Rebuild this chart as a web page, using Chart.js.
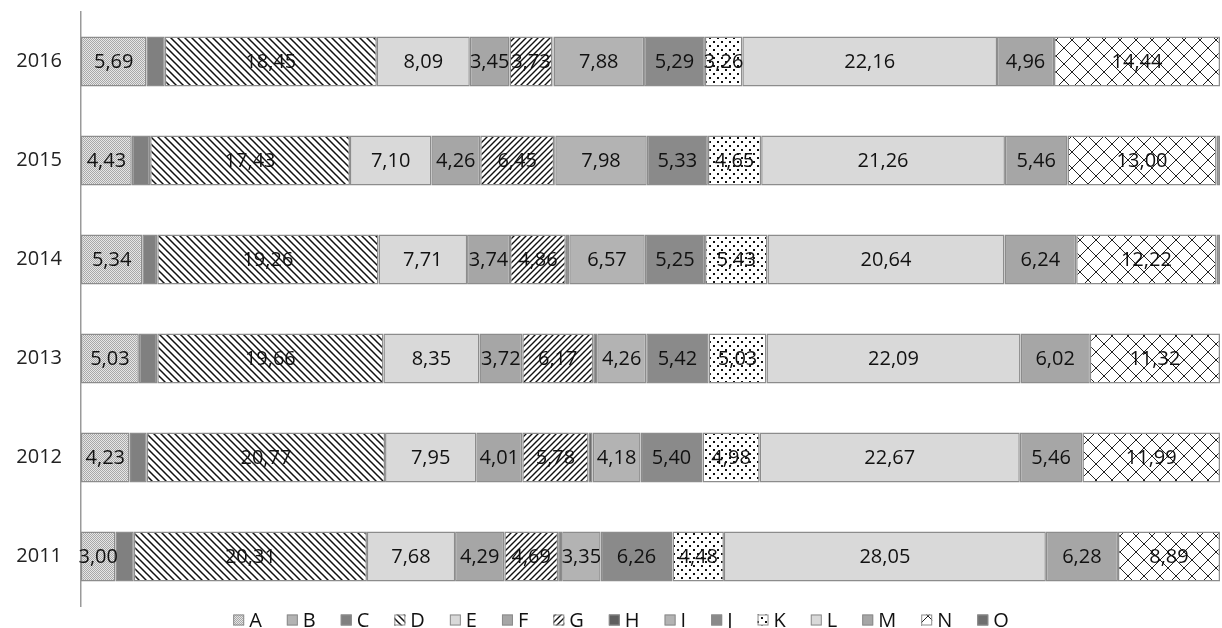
<!DOCTYPE html>
<html>
<head>
<meta charset="utf-8">
<script src="https://cdn.jsdelivr.net/npm/chart.js@4/dist/chart.umd.min.js"></script>
<style>
  html, body { margin: 0; padding: 0; background: #fff; }
  #wrap { width: 1222px; height: 628px; }
</style>
</head>
<body>
<div id="wrap"><canvas id="chart-canvas" width="1222" height="628"></canvas></div>
<script>
// years top to bottom
const years = ['2016', '2015', '2014', '2013', '2012', '2011'];
const seriesNames = ['A','B','C','D','E','F','G','H','I','J','K','L','M','N','O'];

const A = [5.69, 4.43, 5.34, 5.03, 4.23, 3.00];
const B = [0, 0, 0, 0, 0, 0];
const C = [1.6, 1.6, 1.3, 1.6, 1.5, 1.6];
const D = [18.45, 17.43, 19.26, 19.66, 20.77, 20.31];
const E = [8.09, 7.10, 7.71, 8.35, 7.95, 7.68];
const F = [3.45, 4.26, 3.74, 3.72, 4.01, 4.29];
const G = [3.73, 6.45, 4.86, 6.17, 5.78, 4.69];
const H = [0.1, 0.1, 0.3, 0.35, 0.35, 0.35];
const I = [7.88, 7.98, 6.57, 4.26, 4.18, 3.35];
const J = [5.29, 5.33, 5.25, 5.42, 5.40, 6.26];
const K = [3.26, 4.65, 5.43, 5.03, 4.98, 4.48];
const L = [22.16, 21.26, 20.64, 22.09, 22.67, 28.05];
const M = [4.96, 5.46, 6.24, 6.02, 5.46, 6.28];
const N = [14.44, 13.00, 12.22, 11.32, 11.99, 8.89];
const O = [0, 0.3, 0.3, 0, 0, 0];

const seriesValues = [A, B, C, D, E, F, G, H, I, J, K, L, M, N, O];
// which series get a value label
const labelled = [true, false, false, true, true, true, true, false, true, true, true, true, true, true, false];

const FONT = '"Open Sans", sans-serif';

// pattern helpers
function makePattern(size, draw) {
    const c = document.createElement('canvas');
    c.width = size; c.height = size;
    const g = c.getContext('2d');
    g.fillStyle = '#fff';
    g.fillRect(0, 0, size, size);
    draw(g, size);
    return g.createPattern(c, 'repeat');
}

const patChecker = makePattern(4, function(g){
    g.fillStyle = '#e6e6e6'; g.fillRect(0,0,4,4);
    g.fillStyle = '#a8a8a8';
    g.fillRect(0,0,1,1); g.fillRect(2,0,1,1); g.fillRect(1,1,1,1); g.fillRect(3,1,1,1);
    g.fillRect(0,2,1,1); g.fillRect(2,2,1,1); g.fillRect(1,3,1,1); g.fillRect(3,3,1,1);
});
const patBack = makePattern(7, function(g, s){
    g.strokeStyle = '#111'; g.lineWidth = 1.5;
    g.beginPath();
    g.moveTo(-1, -1); g.lineTo(s+1, s+1);
    g.moveTo(-1, s-1); g.lineTo(1, s+1);
    g.moveTo(s-1, -1); g.lineTo(s+1, 1);
    g.stroke();
});
const patFwd = makePattern(6, function(g, s){
    g.strokeStyle = '#111'; g.lineWidth = 1.4;
    g.beginPath();
    g.moveTo(-1, s+1); g.lineTo(s+1, -1);
    g.moveTo(-1, 1); g.lineTo(1, -1);
    g.moveTo(s-1, s+1); g.lineTo(s+1, s-1);
    g.stroke();
});
const patDots = makePattern(8, function(g){
    g.fillStyle = '#111';
    g.fillRect(1,1,2,2);
    g.fillRect(5,5,2,2);
});
const patLattice = makePattern(16, function(g, s){
    g.strokeStyle = '#222'; g.lineWidth = 1;
    g.beginPath();
    g.moveTo(0, s/2); g.lineTo(s/2, 0); g.lineTo(s, s/2); g.lineTo(s/2, s); g.closePath();
    g.stroke();
});

const fills = [patChecker, '#b3b3b3', '#808080', patBack, '#d9d9d9', '#a6a6a6', patFwd,
               '#5f5f5f', '#b3b3b3', '#8a8a8a', patDots, '#d9d9d9', '#a6a6a6', patLattice, '#6f6f6f'];

// normalize each row to 100 %
const rowTotals = years.map(function(y, r){
    let t = 0;
    seriesValues.forEach(function(s){ t += s[r]; });
    return t;
});

const datasets = seriesNames.map(function(name, k){
    return {
        label: name,
        data: seriesValues[k].map((v, r) => v / rowTotals[r] * 100),
        rawValues: seriesValues[k],
        showLabel: labelled[k],
        backgroundColor: fills[k],
        borderColor: '#8c8c8c',
        borderWidth: 1.5,
        borderSkipped: false,
        categoryPercentage: 1.0,
        barPercentage: 0.505
    };
});

// draws the numbers in the middle of the bars
const valueLabels = {
    id: 'valueLabels',
    afterDatasetsDraw: function(chart){
        const ctx = chart.ctx;
        ctx.save();
        ctx.font = '20px ' + FONT;
        ctx.fillStyle = '#111';
        ctx.textAlign = 'center';
        ctx.textBaseline = 'middle';
        chart.data.datasets.forEach(function(ds, i){
            if (!ds.showLabel) return;
            chart.getDatasetMeta(i).data.forEach(function(bar, j){
                const txt = ds.rawValues[j].toFixed(2).replace('.', ',');
                ctx.fillText(txt, (bar.x + bar.base) / 2, bar.y + 1);
            });
        });
        ctx.restore();
    }
};

// legend row under the plot, drawn by hand to get Excel-like spacing
const bottomLegend = {
    id: 'bottomLegend',
    afterDraw: function(chart){
        const ctx = chart.ctx;
        const box = 11, gap = 5, spacing = 25, y = 620;
        ctx.save();
        ctx.font = '20px ' + FONT;
        ctx.textBaseline = 'middle';
        const widths = chart.data.datasets.map(ds => box + gap + ctx.measureText(ds.label).width);
        let total = widths.reduce((a, b) => a + b, 0) + spacing * (widths.length - 1);
        let x = (chart.width - total) / 2 + 10;
        chart.data.datasets.forEach(function(ds, i){
            ctx.fillStyle = ds.backgroundColor;
            ctx.fillRect(x, y - box / 2, box, box);
            ctx.strokeStyle = '#8c8c8c';
            ctx.lineWidth = 1;
            ctx.strokeRect(x + 0.5, y - box / 2 + 0.5, box - 1, box - 1);
            ctx.fillStyle = '#111';
            ctx.fillText(ds.label, x + box + gap, y + 1);
            x += widths[i] + spacing;
        });
        ctx.restore();
    }
};

Chart.defaults.font.family = FONT;
Chart.defaults.color = '#222';

new Chart(document.getElementById('chart-canvas'), {
    type: 'bar',
    data: { labels: years, datasets: datasets },
    options: {
        indexAxis: 'y',
        responsive: false,
        animation: false,
        layout: { autoPadding: false, padding: { top: 12, right: 2, left: 0, bottom: 22 } },
        scales: {
            x: {
                stacked: true, min: 0, max: 100, display: false
            },
            y: {
                stacked: true,
                grid: { display: false, drawTicks: false },
                border: { display: true, color: '#9a9a9a', width: 1.5 },
                ticks: { font: { size: 20 }, color: '#222', padding: 19 },
                afterFit: function(scale){
                    scale.width = 81;
                    scale.paddingTop = 0;
                    scale.paddingBottom = 0;
                }
            }
        },
        plugins: {
            legend: { display: false },
            tooltip: { enabled: false }
        }
    },
    plugins: [valueLabels, bottomLegend]
});
</script>
</body>
</html>
